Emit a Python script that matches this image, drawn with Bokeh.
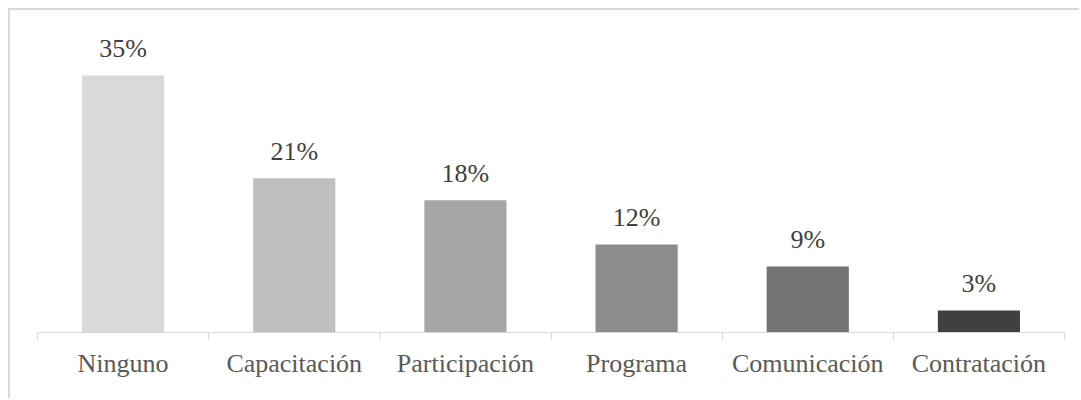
from bokeh.plotting import figure
from bokeh.models import ColumnDataSource, FixedTicker, LabelSet, Range1d
from bokeh.embed import file_html
from bokeh.resources import INLINE

# Data
categories = ["Ninguno", "Capacitación", "Participación", "Programa", "Comunicación", "Contratación"]
values = [35, 21, 18, 12, 9, 3]

# Styling
palette = ["#d9d9d9", "#bfbfbf", "#a6a6a6", "#8c8c8c", "#737373", "#404040"]
FONT = "Liberation Serif"

centers = [i + 0.5 for i in range(len(categories))]
source = ColumnDataSource(dict(
    x=centers,
    top=values,
    color=palette,
    label=[f"{v}%" for v in values],
))

p = figure(
    width=1071, height=390,
    x_range=Range1d(0, len(categories)),
    y_range=Range1d(0, 43.85),
    output_backend="svg",
    toolbar_location=None,
    y_axis_location=None,
    min_border_left=27, min_border_right=17,
    min_border_top=0, min_border_bottom=68,
    styles={
        "margin-left": "8px",
        "margin-top": "8px",
        "border-left": "2px solid #d9d9d9",
        "border-top": "2px solid #d9d9d9",
    },
)
p.outline_line_color = None
p.xgrid.grid_line_color = None
p.ygrid.grid_line_color = None
p.background_fill_color = "white"
p.border_fill_color = "white"

p.vbar(x="x", top="top", width=0.48, fill_color="color", line_color=None, source=source)

labels = LabelSet(
    x="x", y="top", text="label", source=source,
    text_align="center", text_baseline="alphabetic",
    y_offset=18,
    text_font=FONT, text_font_size="26px", text_color="#404040",
)
p.add_layout(labels)

# Category axis: labels at bar centres, ticks at the category boundaries
ax = p.xaxis[0]
ax.ticker = FixedTicker(ticks=centers, minor_ticks=list(range(len(categories) + 1)))
ax.major_label_overrides = {c: name for c, name in zip(centers, categories)}
ax.axis_line_color = "#d9d9d9"
ax.axis_line_width = 1
ax.major_tick_line_color = None
ax.major_tick_out = 0
ax.major_tick_in = 0
ax.minor_tick_line_color = "#d9d9d9"
ax.minor_tick_out = 7
ax.minor_tick_in = 0
ax.major_label_standoff = 9
ax.major_label_text_font = FONT
ax.major_label_text_font_size = "26px"
ax.major_label_text_color = "#595959"

open("out.html", "w").write(file_html(p, INLINE))
